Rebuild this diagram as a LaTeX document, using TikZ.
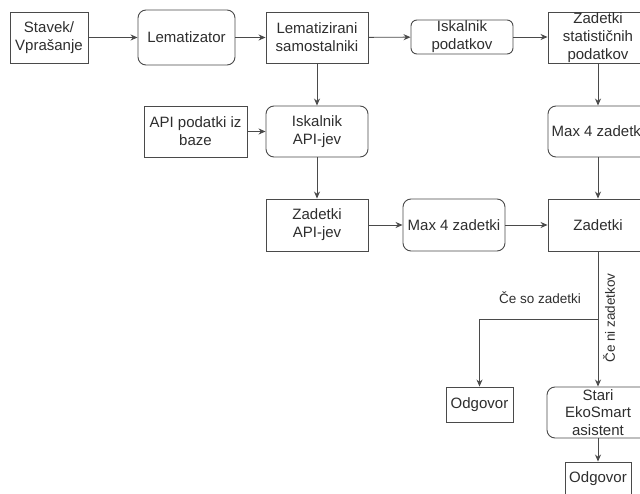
\documentclass[tikz,border=0pt]{standalone}
\usepackage{fontspec}
\setmainfont{Liberation Sans}
\usetikzlibrary{arrows.meta}
\definecolor{linegray}{HTML}{4A4A4A}
\definecolor{txtgray}{HTML}{2E2E2E}
\tikzset{
  box/.style={draw=linegray, line width=0.9pt, fill=white, inner sep=0pt,
    align=center, text=txtgray,
    font=\fontsize{15}{17.8}\selectfont},
  rbox/.style={box, rounded corners=8pt},
  arr/.style={draw=linegray, line width=0.9pt,
    -{Stealth[length=7pt,width=6pt]}},
  lbl/.style={text=txtgray, font=\fontsize{13.5}{16}\selectfont, inner sep=0pt}
}
\begin{document}
\begin{tikzpicture}[x=1pt,y=-1pt]
\clip (0,0) rectangle (640,494);
\fill[white] (0,0) rectangle (640,494);

% top row
\node[box, minimum width=78pt, minimum height=51pt] (stavek) at (49,37.5) {Stavek/\\Vprašanje};
\node[rbox, minimum width=97pt, minimum height=55pt] (lem) at (186.5,37.5) {Lematizator};
\node[box, minimum width=102pt, minimum height=51pt] (lsam) at (317,37.5) {Lematizirani\\samostalniki};
\node[rbox, rounded corners=6pt, minimum width=102pt, minimum height=34pt] (iskp) at (462,37) {Iskalnik\\podatkov};
\node[box, minimum width=100pt, minimum height=51pt] (zstat) at (598,37.5) {Zadetki\\statističnih\\podatkov};

% second row
\node[box, minimum width=103pt, minimum height=51pt] (apib) at (195.5,131.5) {API podatki iz\\baze};
\node[rbox, minimum width=102pt, minimum height=51pt] (iskapi) at (317,131.5) {Iskalnik\\API-jev};
\node[rbox, minimum width=100pt, minimum height=51pt] (maxr) at (598,131.5) {Max 4 zadetki};

% third row
\node[box, minimum width=102pt, minimum height=52pt] (zapi) at (317,225) {Zadetki\\API-jev};
\node[rbox, minimum width=102pt, minimum height=52pt] (maxm) at (454,225) {Max 4 zadetki};
\node[box, minimum width=100pt, minimum height=52pt] (zad) at (598,225) {Zadetki};

% answers
\node[box, minimum width=67pt, minimum height=35pt] (odg1) at (479.5,404.5) {Odgovor};
\node[rbox, minimum width=102pt, minimum height=51pt] (stari) at (598,412.5) {Stari\\EkoSmart\\asistent};
\node[box, minimum width=66pt, minimum height=34pt] (odg2) at (598,479) {Odgovor};

% connectors
\draw[arr] (stavek) -- (lem);
\draw[arr] (lem) -- (lsam);
\draw[arr] (lsam) -- (iskp);
\draw[arr] (iskp.east) -- (iskp.east -| zstat.west);
\draw[arr] (zstat) -- (maxr);
\draw[arr] (maxr) -- (zad);
\draw[arr] (lsam) -- (iskapi);
\draw[arr] (apib) -- (iskapi);
\draw[arr] (iskapi) -- (zapi);
\draw[arr] (zapi) -- (maxm);
\draw[arr] (maxm) -- (zad);
\coordinate (split) at (598,319);
\draw[arr] (zad.south) -- (split) -| (odg1.north);
\draw[arr] (zad.south) -- (stari.north);
\draw[arr] (stari) -- (odg2);

% branch labels
\node[lbl] (lyes) at (540,298) {Če so zadetki};
\node[lbl, rotate=90] (lno) at (609,318) {Če ni zadetkov};
\end{tikzpicture}
\end{document}
